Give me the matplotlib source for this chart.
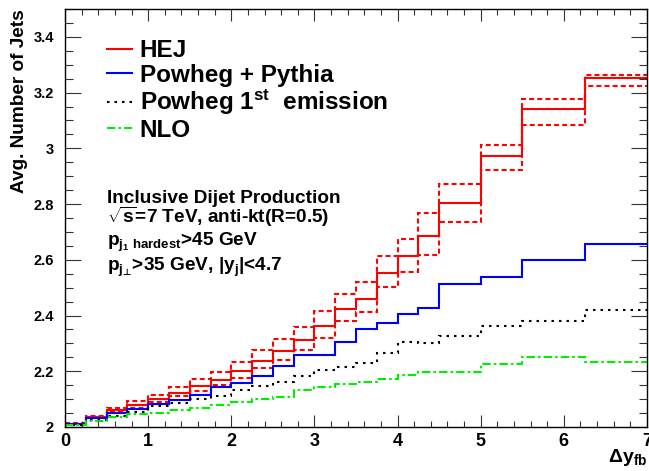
import matplotlib
matplotlib.use("Agg")
import matplotlib.pyplot as plt
from matplotlib.ticker import MultipleLocator

plt.rcParams['font.family'] = ['Liberation Sans', 'DejaVu Sans']
plt.rcParams['font.weight'] = 'bold'
plt.rcParams['axes.labelweight'] = 'bold'
plt.rcParams['mathtext.fontset'] = 'custom'
plt.rcParams['mathtext.rm'] = 'Liberation Sans:bold'
plt.rcParams['mathtext.it'] = 'Liberation Sans:bold'
plt.rcParams['mathtext.bf'] = 'Liberation Sans:bold'
plt.rcParams['mathtext.sf'] = 'DejaVu Sans:bold'

# bin edges in delta y_fb
edges = [0, 0.25, 0.5, 0.75, 1.0, 1.25, 1.5, 1.75, 2.0, 2.25, 2.5, 2.75,
         3.0, 3.25, 3.5, 3.75, 4.0, 4.25, 4.5, 5.0, 5.5, 6.25, 7.0]

hej = [2.011, 2.035, 2.061, 2.079, 2.100, 2.123, 2.147, 2.170, 2.202, 2.238, 2.273,
       2.312, 2.363, 2.425, 2.461, 2.552, 2.612, 2.686, 2.803, 2.973, 3.140, 3.251]
hej_up = [2.014, 2.038, 2.068, 2.094, 2.116, 2.143, 2.172, 2.197, 2.234, 2.276, 2.314,
          2.359, 2.415, 2.477, 2.519, 2.612, 2.676, 2.767, 2.871, 3.012, 3.178, 3.263]
hej_lo = [2.009, 2.031, 2.053, 2.068, 2.090, 2.110, 2.130, 2.152, 2.177, 2.212, 2.241,
          2.277, 2.321, 2.381, 2.414, 2.501, 2.558, 2.616, 2.734, 2.922, 3.082, 3.223]
powheg_pythia = [2.010, 2.032, 2.049, 2.065, 2.084, 2.098, 2.116, 2.142, 2.158, 2.184, 2.218,
                 2.258, 2.258, 2.304, 2.351, 2.373, 2.404, 2.426, 2.514, 2.539, 2.599, 2.655]
powheg_1st = [2.008, 2.026, 2.041, 2.055, 2.076, 2.085, 2.100, 2.112, 2.132, 2.148, 2.162,
              2.184, 2.203, 2.214, 2.229, 2.266, 2.305, 2.300, 2.325, 2.363, 2.379, 2.421]
nlo = [2.006, 2.020, 2.035, 2.045, 2.050, 2.062, 2.068, 2.079, 2.089, 2.102, 2.107,
       2.133, 2.142, 2.154, 2.162, 2.172, 2.188, 2.196, 2.199, 2.225, 2.250, 2.234]

fig = plt.figure(figsize=(6.49, 4.71), dpi=100)
ax = fig.add_axes([65/649, 44/471, 582/649, 418/471])

lw = 1.5
ax.stairs(hej_up, edges, baseline=None, color="#ff0000", lw=lw, linestyle=(0, (2.4, 1.5)))
ax.stairs(hej_lo, edges, baseline=None, color="#ff0000", lw=lw, linestyle=(0, (2.4, 1.5)))
ax.stairs(hej, edges, baseline=None, color="#ff0000", lw=lw, label="HEJ")
ax.stairs(powheg_pythia, edges, baseline=None, color="#0000ff", lw=lw, label="Powheg + Pythia")
ax.stairs(powheg_1st, edges, baseline=None, color="black", lw=lw, linestyle=(0, (1.2, 2.4)),
          label=r"Powheg 1$^{\mathrm{st}}$  emission")
ax.stairs(nlo, edges, baseline=None, color="#00ee00", lw=lw, linestyle=(0, (4, 1.5, 1.2, 1.5)),
          label="NLO")

ax.set_xlim(0, 7)
ax.set_ylim(2, 3.5)
ax.xaxis.set_major_locator(MultipleLocator(1))
ax.xaxis.set_minor_locator(MultipleLocator(0.2))
ax.yaxis.set_minor_locator(MultipleLocator(0.05))
ax.set_yticks([2, 2.2, 2.4, 2.6, 2.8, 3, 3.2, 3.4])
ax.set_yticklabels(["2", "2.2", "2.4", "2.6", "2.8", "3", "3.2", "3.4"])
ax.tick_params(which="both", direction="in", top=True, right=True, width=0.8, color="#333333")
ax.tick_params(axis="y", which="major", length=11.5, labelsize=10.5, pad=8)
ax.tick_params(axis="y", which="minor", length=5.8)
ax.tick_params(axis="x", which="major", length=8.6, labelsize=13, pad=4)
ax.tick_params(axis="x", which="minor", length=4.3)
for s in ax.spines.values():
    s.set_linewidth(1.0)

ax.set_ylabel("Avg. Number of Jets", fontsize=13.7, loc="top")
ax.yaxis.set_label_coords(-0.064, 1.0)
ax.set_xlabel(r"$\Delta$y$_{\mathrm{fb}}$", fontsize=14, loc="right")
ax.xaxis.set_label_coords(1.0, -0.048)

ax.legend(loc="upper left", bbox_to_anchor=(0.072, 0.928), frameon=False, fontsize=17.5,
          handlelength=1.05, handletextpad=0.3, labelspacing=0.06, borderpad=0, borderaxespad=0)

tx = 0.072
ax.text(tx, 0.536, "Inclusive Dijet Production", transform=ax.transAxes, fontsize=13.7)
ax.text(tx, 0.488, r"$\sqrt{s}$=7 TeV, anti-kt(R=0.5)", transform=ax.transAxes, fontsize=13.7)
ax.text(tx, 0.434, r"p$_{\mathrm{j_{1}\ hardest}}$>45 GeV", transform=ax.transAxes, fontsize=13.7)
ax.text(tx, 0.374, r"p$_{\mathrm{j}_{\mathsf{⊥}}}$>35 GeV, |y$_{\mathrm{j}}$|<4.7",
        transform=ax.transAxes, fontsize=13.7)

fig.savefig("out.png", dpi=100)
